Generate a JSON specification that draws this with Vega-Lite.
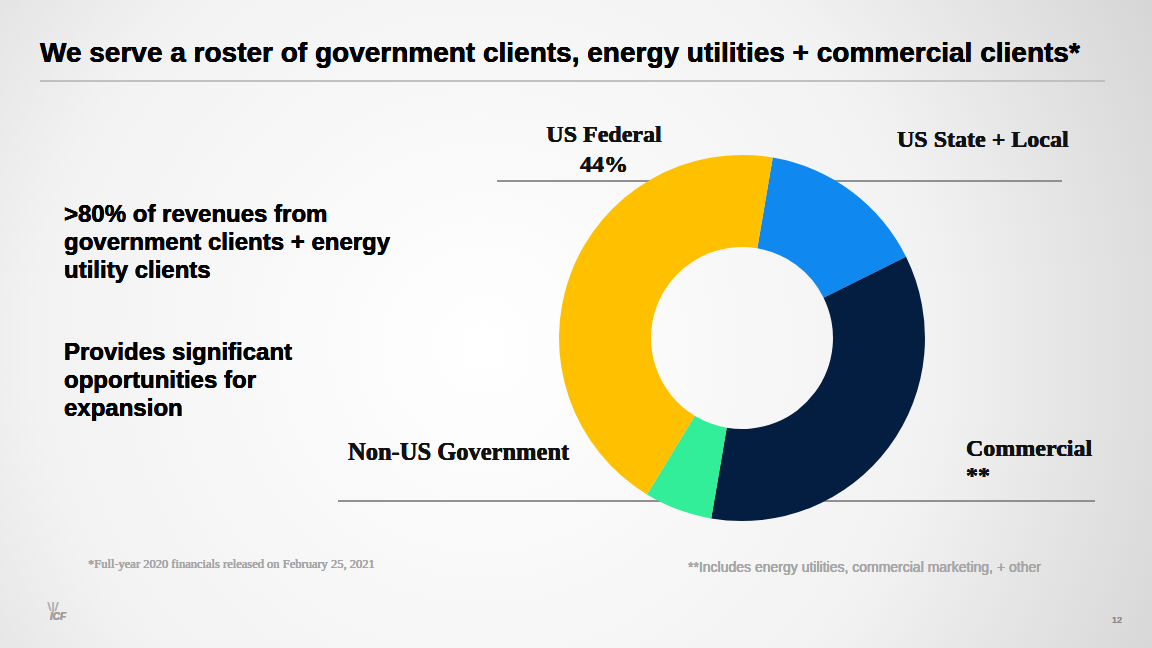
{
  "$schema": "https://vega.github.io/schema/vega-lite/v6.json",
  "width": 1152,
  "height": 648,
  "autosize": {"type": "fit", "contains": "padding"},
  "padding": 0,
  "background": "#e6e6e6",
  "config": {"view": {"stroke": null}, "text": {"strokeWidth": 0}},
  "datasets": {
    "segments": [
      {"segment": "US State + Local", "share": 15, "rank": 1},
      {"segment": "Commercial", "share": 35, "rank": 2},
      {"segment": "Non-US Government", "share": 6, "rank": 3},
      {"segment": "US Federal", "share": 44, "rank": 4}
    ]
  },
  "data": {"name": "segments"},
  "layer": [
    {
      "mark": {"type": "rect", "color": {"gradient": "radial", "x1": 0.42, "y1": 0.52, "r1": 0, "x2": 0.42, "y2": 0.52, "r2": 0.78,
        "stops": [{"offset": 0, "color": "#ffffff"}, {"offset": 0.5, "color": "#f2f2f2"}, {"offset": 1, "color": "#c8c8c8"}]}},
      "encoding": {"x": {"value": 0}, "x2": {"value": "width"}, "y": {"value": 0}, "y2": {"value": "height"}}
    },
    {"mark": {"type": "rule", "stroke": "#bdbdbd", "strokeWidth": 1}, "encoding": {"x": {"value": 40}, "x2": {"value": 1105}, "y": {"value": 81}}},
    {"mark": {"type": "rule", "stroke": "#8a8a8a", "strokeWidth": 1}, "encoding": {"x": {"value": 497}, "x2": {"value": 1062}, "y": {"value": 181}}},
    {"mark": {"type": "rule", "stroke": "#8a8a8a", "strokeWidth": 1}, "encoding": {"x": {"value": 338}, "x2": {"value": 1095}, "y": {"value": 501}}},
    {
      "mark": {"type": "arc", "x": 742, "y": 338, "outerRadius": 183, "innerRadius": 91},
      "encoding": {
        "theta": {"field": "share", "type": "quantitative", "stack": true, "scale": {"range": [0.169, 6.452]}},
        "order": {"field": "rank", "type": "ordinal"},
        "color": {"field": "segment", "type": "nominal", "legend": null,
          "scale": {"domain": ["US State + Local", "Commercial", "Non-US Government", "US Federal"],
                    "range": ["#0f88f0", "#041e42", "#33ee99", "#ffc000"]}}
      }
    },
    {"mark": {"type": "text", "x": 40, "y": 62, "align": "left", "baseline": "alphabetic", "font": "Liberation Sans", "fontWeight": "bold", "fontSize": 28, "fill": "#000000",
      "text": "We serve a roster of government clients, energy utilities + commercial clients*"}, "encoding": {}},
    {"mark": {"type": "text", "x": 64, "y": 222, "align": "left", "baseline": "alphabetic", "font": "Liberation Sans", "fontWeight": "bold", "fontSize": 24, "lineHeight": 28, "fill": "#000000",
      "text": [">80% of revenues from", "government clients + energy", "utility clients"]}, "encoding": {}},
    {"mark": {"type": "text", "x": 64, "y": 360, "align": "left", "baseline": "alphabetic", "font": "Liberation Sans", "fontWeight": "bold", "fontSize": 24, "lineHeight": 28, "fill": "#000000",
      "text": ["Provides significant", "opportunities for", "expansion"]}, "encoding": {}},
    {"mark": {"type": "text", "x": 604, "y": 142, "align": "center", "baseline": "alphabetic", "font": "Liberation Serif", "fontWeight": "bold", "fontSize": 24, "lineHeight": 30, "fill": "#111111",
      "text": ["US Federal", "44%"]}, "encoding": {}},
    {"mark": {"type": "text", "x": 897, "y": 147, "align": "left", "baseline": "alphabetic", "font": "Liberation Serif", "fontWeight": "bold", "fontSize": 24, "fill": "#111111",
      "text": "US State + Local"}, "encoding": {}},
    {"mark": {"type": "text", "x": 348, "y": 460, "align": "left", "baseline": "alphabetic", "font": "Liberation Serif", "fontWeight": "bold", "fontSize": 24.5, "fill": "#111111",
      "text": "Non-US Government"}, "encoding": {}},
    {"mark": {"type": "text", "x": 966, "y": 456, "align": "left", "baseline": "alphabetic", "font": "Liberation Serif", "fontWeight": "bold", "fontSize": 24, "lineHeight": 27, "fill": "#111111",
      "text": ["Commercial", "**"]}, "encoding": {}},
    {"mark": {"type": "text", "x": 88, "y": 568, "align": "left", "baseline": "alphabetic", "font": "Liberation Serif", "fontSize": 12.5, "fill": "#a6a6a6",
      "text": "*Full-year 2020 financials released on February 25, 2021"}, "encoding": {}},
    {"mark": {"type": "text", "x": 688, "y": 572, "align": "left", "baseline": "alphabetic", "font": "Liberation Sans", "fontSize": 14, "fill": "#a6a6a6",
      "text": "**Includes energy utilities, commercial marketing, + other"}, "encoding": {}},
    {"mark": {"type": "text", "x": 1117, "y": 623, "align": "center", "baseline": "alphabetic", "font": "Liberation Sans", "fontSize": 9, "fill": "#8c8c8c",
      "text": "12"}, "encoding": {}},
    {"mark": {"type": "text", "x": 58, "y": 620, "align": "center", "baseline": "alphabetic", "font": "Liberation Sans", "fontWeight": "bold", "fontStyle": "italic", "fontSize": 10, "fill": "#a0a0a0",
      "text": "ICF"}, "encoding": {}},
    {"mark": {"type": "text", "x": 53, "y": 610, "align": "center", "baseline": "alphabetic", "font": "DejaVu Sans", "fontSize": 11, "fill": "#b0b0b0",
      "text": "\\|/"}, "encoding": {}}
  ]
}
